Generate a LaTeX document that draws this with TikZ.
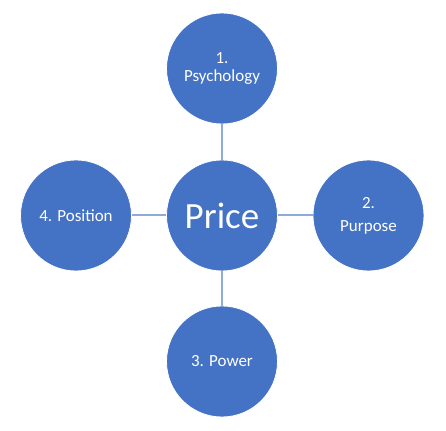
\documentclass[tikz,border=0pt]{standalone}
\usepackage{fontspec}
\setmainfont{Carlito}
\definecolor{cfill}{HTML}{4472C4}
\definecolor{cline}{HTML}{8FAADC}
\begin{document}
\begin{tikzpicture}[x=1pt,y=1pt,
  bubble/.style={circle,fill=cfill,draw=white,line width=0.8pt,minimum size=111pt,inner sep=0pt,text=white,font=\fontsize{17}{19}\selectfont,align=center},
  link/.style={draw=cline,line width=2pt}]
\useasboundingbox (0,0) rectangle (446,430);
\node[bubble,font=\fontsize{37}{40}\selectfont] (c) at (222,214.5) {Price};
\node[bubble] (t) at (222,361.5) {1.\\[-1pt]Psychology};
\node[bubble] (r) at (368.5,214.5) {2.\\[4pt]Purpose};
\node[bubble] (b) at (222,68.5) {3. Power};
\node[bubble] (l) at (76,214.5) {4. Position};
\draw[link] (c) -- (t);
\draw[link] (c) -- (r);
\draw[link] (c) -- (b);
\draw[link] (c) -- (l);
\end{tikzpicture}
\end{document}
